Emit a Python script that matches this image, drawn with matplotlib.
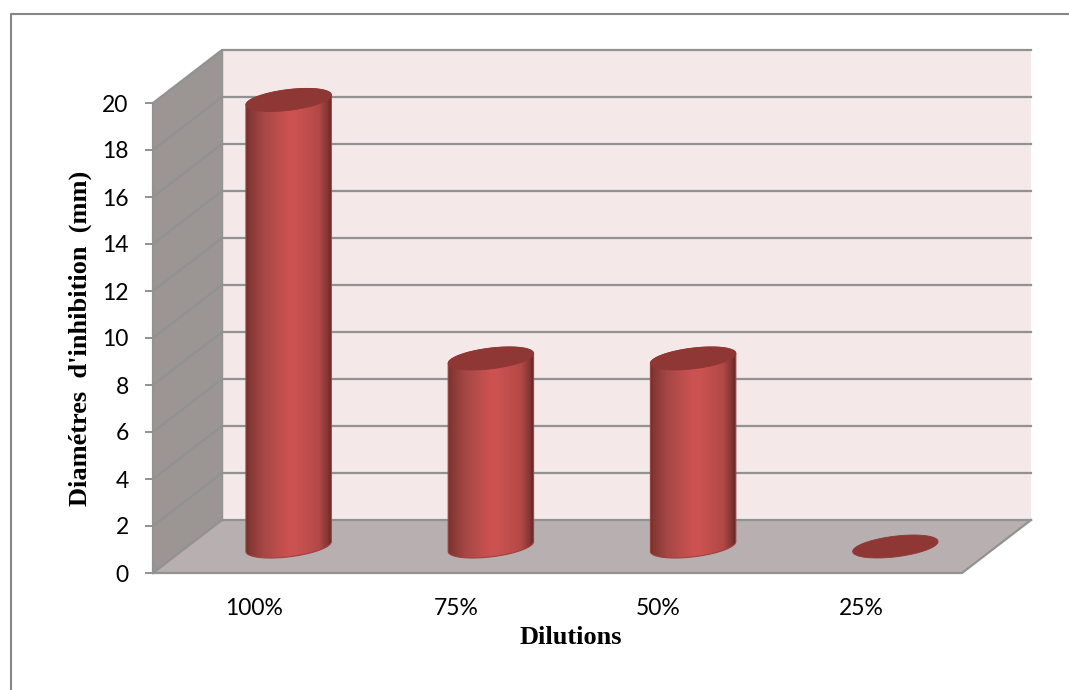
import numpy as np
import matplotlib
matplotlib.use('Agg')
import matplotlib.pyplot as plt
from matplotlib.colors import LinearSegmentedColormap
from matplotlib.lines import Line2D
from matplotlib.patches import PathPatch, Polygon
from matplotlib.path import Path

dilutions = ['100%', '75%', '50%', '25%']
diametres = [19, 8, 8, 0]
y_ticks = list(range(0, 21, 2))

W, H = 1069, 690
LEFT, RIGHT, BOTTOM, TOP = 153, 962, 573, 103

# data units per pixel on the front plane
ux = 4 / (RIGHT - LEFT)
uy = 20 / (BOTTOM - TOP)
# offset of the back wall, in data units
dx = 69 * ux
dy = 53 * uy

GRID = '#929292'
cyl_map = LinearSegmentedColormap.from_list('cyl', [
    (0.00, '#722e2c'), (0.04, '#843734'), (0.20, '#a64745'), (0.50, '#cc5351'),
    (0.60, '#ca5250'), (0.85, '#b24947'), (0.95, '#863634'), (1.00, '#602523')])


def ellipse(cx, cy, a=43, b=10.3, tilt=7):
    t = np.linspace(0, 2 * np.pi, 181)[:-1]
    r = np.radians(tilt)
    px = a * np.cos(t) * np.cos(r) - b * np.sin(t) * np.sin(r)
    py = a * np.cos(t) * np.sin(r) + b * np.sin(t) * np.cos(r)
    return cx + px * ux, cy + py * uy


def cylinder(ax, cx, base, value):
    xb, yb = ellipse(cx, base)
    xt, yt = ellipse(cx, base + value)
    if value > 0:
        i0 = np.argmin(xb)
        i1 = np.argmax(xb)
        # lower arc of the base, then upper arc of the top
        low = np.roll(np.arange(len(xb)), -i0)
        low = low[:(i1 - i0) % len(xb) + 1]
        up = np.roll(np.arange(len(xb)), -i1)
        up = up[:(i0 - i1) % len(xb) + 1]
        verts = np.r_[np.c_[xb[low], yb[low]], np.c_[xt[up], yt[up]]]
        body = Path(np.r_[verts, verts[:1]], closed=True)
        patch = PathPatch(body, fc='none', ec='#9c4240', lw=0.8, zorder=4, clip_on=False)
        ax.add_patch(patch)
        shade = np.linspace(0, 1, 256).reshape(1, -1)
        im = ax.imshow(shade, cmap=cyl_map, aspect='auto', zorder=3, interpolation='bilinear',
                       extent=(xb.min(), xb.max(), base - 1, base + value + 1))
        im.set_clip_box(ax.figure.bbox)
        im.set_clip_path(patch)
    ax.add_patch(Polygon(np.c_[xt, yt], closed=True, fc='#8f3735', ec='#8f3735', lw=0.6,
                         zorder=5, clip_on=False))


def main():
    plt.rcParams['font.family'] = 'Lato'
    fig = plt.figure(figsize=(W / 100, H / 100), dpi=100, facecolor='white')
    ax = fig.add_axes([LEFT / W, 1 - BOTTOM / H, (RIGHT - LEFT) / W, (BOTTOM - TOP) / H])
    ax.patch.set_visible(False)

    # walls and floor
    ax.add_patch(Polygon([(0, 0), (dx, dy), (dx, 20 + dy), (0, 20)], fc='#9b9694', ec='none',
                         zorder=1, clip_on=False))
    ax.add_patch(Polygon([(dx, dy), (4 + dx, dy), (4 + dx, 20 + dy), (dx, 20 + dy)],
                         fc='#f4e8e8', ec='none', zorder=1, clip_on=False))
    ax.add_patch(Polygon([(0, 0), (4, 0), (4 + dx, dy), (dx, dy)], fc='#b8b0b0', ec='none',
                         zorder=1, clip_on=False))

    for v in y_ticks:
        ax.plot([0, dx, 4 + dx], [v, v + dy, v + dy], color=GRID, lw=1.6, zorder=2,
                clip_on=False, solid_joinstyle='miter')
    ax.plot([0, 4, 4 + dx], [0, 0, dy], color=GRID, lw=1.6, zorder=2, clip_on=False)
    ax.plot([0, 0], [0, 20], color=GRID, lw=1.6, zorder=2, clip_on=False)
    ax.plot([dx, dx], [dy, 20 + dy], color=GRID, lw=1, zorder=2, clip_on=False)

    for i, v in enumerate(diametres):
        cylinder(ax, i + 0.5 + dx / 2, dy / 2, v)

    ax.set_xlim(0, 4)
    ax.set_ylim(0, 20)
    for s in ax.spines.values():
        s.set_visible(False)
    ax.set_xticks([i + 0.5 for i in range(len(dilutions))], dilutions)
    ax.set_yticks(y_ticks)
    ax.tick_params(axis='x', length=0, pad=18, labelsize=16.5, labelcolor='black')
    ax.tick_params(axis='y', length=5.5, width=1.4, color=GRID, pad=12, labelsize=16.5,
                   labelcolor='black')

    serif = dict(family='Liberation Serif', fontweight='bold', fontsize=19, color='black')
    fig.text(571 / W, 1 - 638 / H, 'Dilutions', ha='center', va='center', **serif)
    fig.text(80 / W, 1 - 338 / H, "Diamétres  d'inhibition  (mm)", ha='center', va='center',
             rotation=90, **serif)

    # frame of the chart area
    fig.add_artist(Line2D([10.5 / W, 10.5 / W, 1], [0, 1 - 14 / H, 1 - 14 / H],
                          color='#868686', lw=1.5))
    fig.savefig('out.png', dpi=100)


if __name__ == "__main__":
    main()
